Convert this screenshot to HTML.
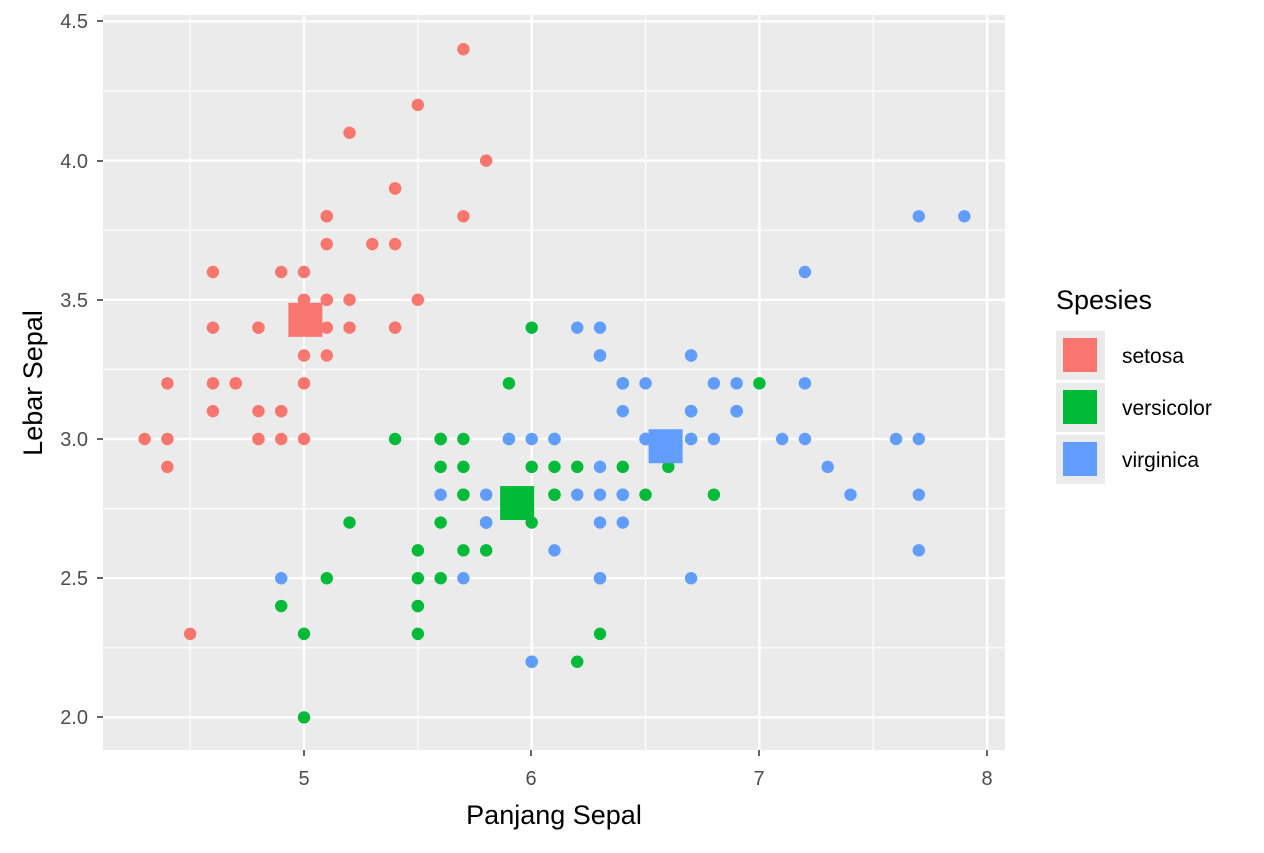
<!DOCTYPE html>
<html><head><meta charset="utf-8"><style>
html,body{margin:0;padding:0;background:#fff;}
text{font-family:"Liberation Sans",Arial,sans-serif;}
</style></head><body>
<svg id="s" width="1264" height="848" xmlns="http://www.w3.org/2000/svg">
<rect x="103" y="15" width="902" height="735" fill="#EBEBEB"/>
<g id="grid"></g>
<g id="pts"></g>
<g fill="#4D4D4D" font-size="20" text-anchor="end">
<text x="88" y="28">4.5</text><text x="88" y="168">4.0</text><text x="88" y="307">3.5</text>
<text x="88" y="446">3.0</text><text x="88" y="585">2.5</text><text x="88" y="724">2.0</text>
</g>
<g fill="#4D4D4D" font-size="20" text-anchor="middle">
<text x="304" y="785">5</text><text x="531" y="785">6</text><text x="759" y="785">7</text><text x="987" y="785">8</text>
</g>
<g stroke="#333" stroke-width="1.5">
<line x1="97" x2="103" y1="21" y2="21"/><line x1="97" x2="103" y1="161" y2="161"/><line x1="97" x2="103" y1="300" y2="300"/>
<line x1="97" x2="103" y1="439" y2="439"/><line x1="97" x2="103" y1="578" y2="578"/><line x1="97" x2="103" y1="717" y2="717"/>
<line x1="304" x2="304" y1="750" y2="756"/><line x1="531" x2="531" y1="750" y2="756"/><line x1="759" x2="759" y1="750" y2="756"/><line x1="987" x2="987" y1="750" y2="756"/>
</g>
<text x="554" y="824" font-size="27" text-anchor="middle" fill="#000">Panjang Sepal</text>
<text transform="translate(42,383) rotate(-90)" font-size="27" text-anchor="middle" fill="#000">Lebar Sepal</text>
<text x="1056" y="309" font-size="27" fill="#000">Spesies</text>
<rect x="1056" y="331" width="49" height="49" fill="#EBEBEB"/><rect x="1063" y="338" width="34" height="34" fill="#F8766D"/>
<rect x="1056" y="383" width="49" height="49" fill="#EBEBEB"/><rect x="1063" y="390" width="34" height="34" fill="#00BA38"/>
<rect x="1056" y="435" width="49" height="49" fill="#EBEBEB"/><rect x="1063" y="442" width="34" height="34" fill="#619CFF"/>
<g font-size="21" fill="#000"><text x="1122" y="363">setosa</text><text x="1122" y="415">versicolor</text><text x="1122" y="467">virginica</text></g>
</svg>
<script>
const X=v=>304+(v-5)*227.7, Y=v=>439-(v-3)*278.4;
const ns="http://www.w3.org/2000/svg";
function el(p,t,a){const e=document.createElementNS(ns,t);for(const k in a)e.setAttribute(k,a[k]);p.appendChild(e);return e;}
const g=document.getElementById("grid");
[4.5,5.5,6.5,7.5].forEach(v=>el(g,"line",{x1:X(v),x2:X(v),y1:15,y2:750,stroke:"#fff","stroke-width":1.2}));
[2.25,2.75,3.25,3.75,4.25].forEach(v=>el(g,"line",{x1:103,x2:1005,y1:Y(v),y2:Y(v),stroke:"#fff","stroke-width":1.2}));
[5,6,7,8].forEach(v=>el(g,"line",{x1:X(v),x2:X(v),y1:15,y2:750,stroke:"#fff","stroke-width":2.4}));
[2,2.5,3,3.5,4,4.5].forEach(v=>el(g,"line",{x1:103,x2:1005,y1:Y(v),y2:Y(v),stroke:"#fff","stroke-width":2.4}));
const se=[5.1,3.5,4.9,3.0,4.7,3.2,4.6,3.1,5.0,3.6,5.4,3.9,4.6,3.4,5.0,3.4,4.4,2.9,4.9,3.1,5.4,3.7,4.8,3.4,4.8,3.0,4.3,3.0,5.8,4.0,5.7,4.4,5.4,3.9,5.1,3.5,5.7,3.8,5.1,3.8,5.4,3.4,5.1,3.7,4.6,3.6,5.1,3.3,4.8,3.4,5.0,3.0,5.0,3.4,5.2,3.5,5.2,3.4,4.7,3.2,4.8,3.1,5.4,3.4,5.2,4.1,5.5,4.2,4.9,3.1,5.0,3.2,5.5,3.5,4.9,3.6,4.4,3.0,5.1,3.4,5.0,3.5,4.5,2.3,4.4,3.2,5.0,3.5,5.1,3.8,4.8,3.0,5.1,3.8,4.6,3.2,5.3,3.7,5.0,3.3];
const ve=[7.0,3.2,6.4,3.2,6.9,3.1,5.5,2.3,6.5,2.8,5.7,2.8,6.3,3.3,4.9,2.4,6.6,2.9,5.2,2.7,5.0,2.0,5.9,3.0,6.0,2.2,6.1,2.9,5.6,2.9,6.7,3.1,5.6,3.0,5.8,2.7,6.2,2.2,5.6,2.5,5.9,3.2,6.1,2.8,6.3,2.5,6.1,2.8,6.4,2.9,6.6,3.0,6.8,2.8,6.7,3.0,6.0,2.9,5.7,2.6,5.5,2.4,5.5,2.4,5.8,2.7,6.0,2.7,5.4,3.0,6.0,3.4,6.7,3.1,6.3,2.3,5.6,3.0,5.5,2.5,5.5,2.6,6.1,3.0,5.8,2.6,5.0,2.3,5.6,2.7,5.7,3.0,5.7,2.9,6.2,2.9,5.1,2.5,5.7,2.8];
const vi=[6.3,3.3,5.8,2.7,7.1,3.0,6.3,2.9,6.5,3.0,7.6,3.0,4.9,2.5,7.3,2.9,6.7,2.5,7.2,3.6,6.5,3.2,6.4,2.7,6.8,3.0,5.7,2.5,5.8,2.8,6.4,3.2,6.5,3.0,7.7,3.8,7.7,2.6,6.0,2.2,6.9,3.2,5.6,2.8,7.7,2.8,6.3,2.7,6.7,3.3,7.2,3.2,6.2,2.8,6.1,3.0,6.4,2.8,7.2,3.0,7.4,2.8,7.9,3.8,6.4,2.8,6.3,2.8,6.1,2.6,7.7,3.0,6.3,3.4,6.4,3.1,6.0,3.0,6.9,3.1,6.7,3.1,6.9,3.1,5.8,2.7,6.8,3.2,6.7,3.3,6.7,3.0,6.3,2.5,6.5,3.0,6.2,3.4,5.9,3.0];
const p=document.getElementById("pts");
[[se,"#F8766D",5.006,3.428],[ve,"#00BA38",5.936,2.77],[vi,"#619CFF",6.588,2.974]].forEach(([d,c])=>{
 for(let i=0;i<d.length;i+=2)el(p,"circle",{cx:X(d[i]),cy:Y(d[i+1]),r:6.2,fill:c});});
[[se,"#F8766D",5.006,3.428],[ve,"#00BA38",5.936,2.77],[vi,"#619CFF",6.588,2.974]].forEach(([d,c,mx,my])=>{
 el(p,"rect",{x:X(mx)-17,y:Y(my)-17,width:34,height:34,fill:c});});
</script>
</body></html>
